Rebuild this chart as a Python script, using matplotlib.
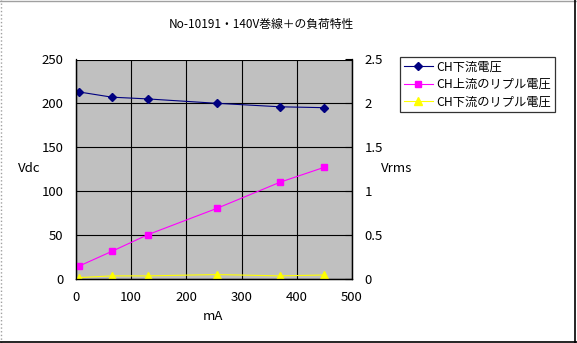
import matplotlib
matplotlib.use('Agg')
import matplotlib.pyplot as plt
from matplotlib.lines import Line2D

plt.rcParams['font.family'] = ['Noto Sans CJK JP', 'DejaVu Sans']
plt.rcParams['font.size'] = 9.5

# load current (mA) and measured voltages
current = [5, 65, 130, 255, 370, 450]
vdc_out = [213, 207, 205, 200, 196, 195]          # Vdc, left axis
ripple_in = [0.14, 0.31, 0.50, 0.80, 1.10, 1.27]  # Vrms, right axis
ripple_out = [0.01, 0.03, 0.03, 0.045, 0.03, 0.04]

labels = ['CH下流電圧', 'CH上流のリプル電圧', 'CH下流のリプル電圧']
title = 'No-10191・140V巻線＋の負荷特性'

fig = plt.figure(figsize=(5.77, 3.43), dpi=100)
ax = fig.add_axes([76/577, 1-278.5/343, 276/577, 219/343])
ax2 = ax.twinx()

ax.set_facecolor('#c0c0c0')
ax.set_xlim(0, 500)
ax.set_ylim(0, 250)
ax2.set_ylim(0, 2.5)
ax.set_xticks(range(0, 501, 100))
ax.set_yticks(range(0, 251, 50))
ax2.set_yticks([0, 0.5, 1, 1.5, 2, 2.5])
ax2.set_yticklabels(['0', '0.5', '1', '1.5', '2', '2.5'])
ax.grid(True, color='black', linewidth=0.8)
ax.set_axisbelow(True)

for a in (ax, ax2):
    a.spines['top'].set_visible(False)
    for s in ('left', 'bottom', 'right'):
        a.spines[s].set_color('black')
        a.spines[s].set_linewidth(0.9)
ax.tick_params(axis='x', length=0, pad=9)
ax.tick_params(axis='y', length=0, pad=9)
ax2.tick_params(axis='y', direction='in', length=5, width=0.8, pad=9)

l1, = ax.plot(current, vdc_out, color='#000080', marker='D', markersize=4.2, linewidth=0.8)
l2, = ax2.plot(current, ripple_in, color='#ff00ff', marker='s', markersize=4.6, linewidth=0.8)
l3, = ax2.plot(current, ripple_out, color='#ffff00', marker='^', markersize=5.2, linewidth=0.8)

fig.text(261/577, 1-24/343, title, ha='center', va='center', fontsize=8.5)
fig.text(29/577, 1-168/343, 'Vdc', ha='center', va='center')
fig.text(397/577, 1-169/343, 'Vrms', ha='center', va='center')
fig.text(213/577, 1-317/343, 'mA', ha='center', va='center')

leg = fig.legend([l1, l2, l3], labels, loc='upper left',
                 bbox_to_anchor=(400/577, 1-57/343), fontsize=8.8,
                 frameon=True, fancybox=False, borderpad=0.3,
                 handlelength=2.4, handletextpad=0.3, labelspacing=0.35,
                 borderaxespad=0)
leg.get_frame().set_edgecolor('black')
leg.get_frame().set_linewidth(0.9)

# chart border
fig.add_artist(Line2D([0.002, 0.002], [0, 1], color='#a0a0a0', linewidth=1, linestyle=':'))
fig.add_artist(Line2D([0, 1], [0.998, 0.998], color='#a0a0a0', linewidth=1))
fig.add_artist(Line2D([0.997, 0.997], [0, 1], color='black', linewidth=1.2))
fig.add_artist(Line2D([0, 1], [0.004, 0.004], color='black', linewidth=1.2))

fig.savefig('out.png', dpi=100)
